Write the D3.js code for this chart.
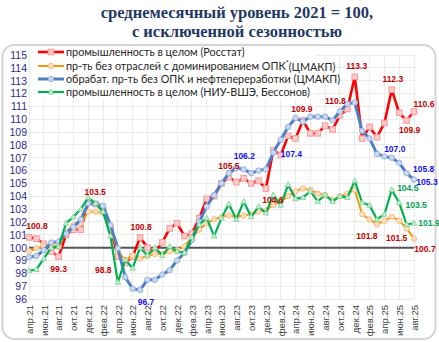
<!DOCTYPE html>
<html><head><meta charset="utf-8">
<script src="https://cdn.jsdelivr.net/npm/d3@7"></script>
<style>
html,body{margin:0;padding:0;background:#fff;}
svg{display:block;}
</style></head>
<body>
<svg id="chart" width="439" height="342"></svg>
<script>
// ---------- DATA ----------
const months = [
 "апр.21","май.21","июн.21","июл.21","авг.21","сен.21","окт.21","ноя.21","дек.21",
 "янв.22","фев.22","мар.22","апр.22","май.22","июн.22","июл.22","авг.22","сен.22","окт.22","ноя.22","дек.22",
 "янв.23","фев.23","мар.23","апр.23","май.23","июн.23","июл.23","авг.23","сен.23","окт.23","ноя.23","дек.23",
 "янв.24","фев.24","мар.24","апр.24","май.24","июн.24","июл.24","авг.24","сен.24","окт.24","ноя.24","дек.24",
 "янв.25","фев.25","мар.25","апр.25","май.25","июн.25","июл.25","авг.25"];
const tickLabels = months.filter((m,i)=>i%2===0);
const yTicks = d3.range(96,116);

const seriesNames = [
 "промышленность в целом (Росстат)",
 "пр-ть без отраслей с доминированием ОПК",
 "обрабат. пр-ть без ОПК и нефтепереработки (ЦМАКП)",
 "промышленность в целом (НИУ-ВШЭ, Бессонов)"];

const rosstat = [100.8,100.7,100.3,99.7,99.3,101.0,101.4,101.4,103.5,
 103.4,102.9,101.5,99.3,98.8,99.3,100.8,100.0,99.7,100.4,101.5,101.9,
 100.9,101.1,102.3,103.8,104.0,105.0,105.5,105.1,105.4,105.0,105.2,104.6,
 107.6,107.2,108.7,108.5,109.9,108.9,108.9,109.5,109.2,110.3,110.8,113.3,
 108.5,109.4,108.6,109.7,112.3,110.5,109.9,110.6];
const noDefense = [99.7,99.95,100.1,100.2,100.1,101.25,101.75,101.9,102.8,
 102.8,102.7,101.4,99.7,99.05,99.4,99.15,99.35,99.5,99.5,99.7,99.8,
 100.1,100.8,101.4,101.9,102.2,102.4,102.5,102.4,102.5,102.6,102.8,102.9,
 103.3,103.6,104.0,104.4,104.6,104.5,104.2,104.1,103.7,104.0,104.2,104.5,
 102.6,102.2,101.8,102.1,102.4,102.1,101.5,100.7];
const manuf = [99.25,99.35,99.8,100.4,100.45,101.1,101.6,102.2,103.45,
 103.4,103.25,101.75,99.95,97.7,96.8,96.7,97.5,97.5,97.9,98.25,99.0,
 99.6,100.6,102.0,103.2,104.1,105.0,105.8,106.2,106.1,105.8,106.0,106.1,
 107.4,108.4,109.4,110.1,109.8,110.2,110.2,110.2,109.9,110.6,111.2,111.3,
 109.1,108.5,107.3,107.1,107.0,106.6,105.8,105.3];
const hse = [98.2,98.3,99.15,100.0,100.07,101.9,102.4,103.0,103.9,
 103.45,102.8,100.9,97.3,99.05,98.4,100.0,99.4,100.0,99.4,100.1,99.7,
 99.6,100.8,101.8,102.3,100.9,102.3,103.4,102.2,103.6,102.4,103.2,102.7,
 104.1,103.3,104.9,103.8,103.9,104.4,103.6,104.1,103.6,104.0,103.9,105.2,
 103.5,103.3,102.2,102.6,104.5,103.5,101.8,101.9];

// labelled points: [seriesIndex, monthIndex]
const labelPoints = [
 [0,0],[0,4],[0,8],[0,13],[0,15],[0,27],[0,32],[0,37],[0,43],[0,44],[0,49],[0,51],[0,52],
 [2,15],[2,28],[2,33],[2,49],[2,51],[2,52],
 [3,49],[3,50],[3,52],
 [1,47],[1,51],[1,52]];
// label offsets (dx, dy) from the point, same order
const labelOffsets = [
 [8,-11],[0,12],[7,-11],[-22,7],[1,-10],[0,-11],[7,11],[-1,-11],[-12,-8],[2,-11],[1,-11],[3,10],[10,-7],
 [6,12],[8,-12],[18,1],[3,-9],[17,-4],[13,2],
 [16,-2],[17,2],[15,0],
 [-10,12],[-10,10],[11,10]];

// ---------- STYLE ----------
const styles = [
 {line:"#FF0000", w:2.6, marker:"square", fill:"#FFCACA", stroke:"#F29B9B", label:"#C00000"},
 {line:"#EB9A00", w:2.0, marker:"circle", fill:"#FDDDBE", stroke:"#F7BE86", label:"#C00000"},
 {line:"#4F7FC4", w:3.0, marker:"circle", fill:"#CAD9F1", stroke:"#93B2E2", label:"#1010F0"},
 {line:"#00B050", w:2.2, marker:"triangle", fill:"#C8EDD2", stroke:"#7CD096", label:"#00A050"}];
const allSeries = [rosstat, noDefense, manuf, hse];

const svg = d3.select("#chart");
const L = 29, R = 414, T = 55, B = 299;
const x = d3.scalePoint().domain(months).range([L, R]);
const y = d3.scaleLinear().domain([96,115]).range([B, T]);

// panel
svg.append("rect").attr("x",2.5).attr("y",45).attr("width",433).attr("height",294)
  .attr("rx",12).attr("fill","#fff").attr("stroke","#D4D4D4").attr("stroke-width",2);

// title
const title = svg.append("text").attr("x",237).attr("text-anchor","middle")
  .attr("font-family","'Liberation Serif','Times New Roman',serif").attr("font-weight","bold")
  .attr("font-size",16.5).attr("fill","#1F3864");
title.append("tspan").attr("x",237).attr("y",18).text("среднемесячный уровень 2021 = 100,");
title.append("tspan").attr("x",237).attr("y",37).text("с исключенной сезонностью");

// gridlines
svg.append("g").selectAll("line").data(yTicks).join("line")
  .attr("x1",L).attr("x2",R).attr("y1",d=>y(d)).attr("y2",d=>y(d))
  .attr("stroke","#EBEBEB").attr("stroke-width",1).attr("shape-rendering","crispEdges");
svg.append("g").selectAll("line").data(tickLabels).join("line")
  .attr("x1",d=>x(d)).attr("x2",d=>x(d)).attr("y1",T).attr("y2",B)
  .attr("stroke","#EBEBEB").attr("stroke-width",1).attr("shape-rendering","crispEdges");

// y axis
const yAxis = d3.axisLeft(y).tickValues(yTicks).tickSize(0).tickPadding(0).tickFormat(d3.format("d"));
const ga = svg.append("g").attr("transform",`translate(${L-2},0)`).call(yAxis);
ga.select(".domain").remove();
ga.selectAll("text").attr("font-family","'Liberation Sans',Arial,sans-serif").attr("font-size",10.5).attr("fill","#2B2B8C");

// x axis
const xAxis = d3.axisBottom(x).tickValues(tickLabels).tickSize(0).tickPadding(0);
const gx = svg.append("g").attr("transform",`translate(0,${B+6})`).call(xAxis);
gx.select(".domain").remove();
gx.selectAll("text").attr("font-family","'Liberation Sans',Arial,sans-serif").attr("font-size",9.5)
  .attr("fill","#404040").attr("text-anchor","end").attr("transform","rotate(-90)")
  .attr("x",0).attr("y",0).attr("dy","0.35em");

// legend background
svg.append("rect").attr("x",L+1).attr("y",46).attr("width",285).attr("height",53).attr("fill","#fff");

// 100 line
svg.append("line").attr("x1",L).attr("x2",R).attr("y1",y(100)).attr("y2",y(100))
  .attr("stroke","#555").attr("stroke-width",2);

// series
const line = d3.line().x((d,i)=>x(months[i])).y(d=>y(d));
function drawMarker(g, type, cx, cy, st){
  if(type==="square"){
    g.append("rect").attr("x",cx-2.8).attr("y",cy-2.8).attr("width",5.6).attr("height",5.6)
      .attr("fill",st.fill).attr("stroke",st.stroke).attr("stroke-width",1);
  } else if(type==="circle"){
    g.append("circle").attr("cx",cx).attr("cy",cy).attr("r",2.7)
      .attr("fill",st.fill).attr("stroke",st.stroke).attr("stroke-width",1);
  } else {
    g.append("path").attr("d",`M${cx},${cy-3}L${cx+2.8},${cy+2}L${cx-2.8},${cy+2}Z`)
      .attr("fill",st.fill).attr("stroke",st.stroke).attr("stroke-width",0.8);
  }
}
allSeries.forEach((data,si)=>{
  const st = styles[si];
  const g = svg.append("g");
  g.append("path").datum(data).attr("d",line).attr("fill","none")
    .attr("stroke",st.line).attr("stroke-width",st.w).attr("stroke-linejoin","round");
  data.forEach((v,i)=>drawMarker(g, st.marker, x(months[i]), y(v), st));
});

// data labels
const lg = svg.append("g").attr("font-family","'Liberation Sans Narrow','Arial Narrow','Liberation Sans',sans-serif")
  .attr("font-weight","bold").attr("font-size",8.5).attr("text-anchor","middle");
labelPoints.forEach((p,k)=>{
  const [si,i] = p;
  const v = allSeries[si][i];
  lg.append("text").attr("x",x(months[i])+labelOffsets[k][0]).attr("y",y(v)+labelOffsets[k][1])
    .attr("dy","0.35em").attr("fill",styles[si].label).text(v.toFixed(1));
});

// legend
const leg = svg.append("g").attr("font-family","Lato,'Liberation Sans',sans-serif").attr("font-size",10.8).attr("fill","#262626");
const legY = [52,66,79,92];
seriesNames.forEach((name,si)=>{
  const st = styles[si];
  const yy = legY[si];
  leg.append("line").attr("x1",38).attr("x2",64).attr("y1",yy).attr("y2",yy)
    .attr("stroke",st.line).attr("stroke-width",st.w);
  drawMarker(leg, st.marker, 51, yy, st);
  const t = leg.append("text").attr("x",66).attr("y",yy).attr("dy","0.35em").text(name);
  if(si===1){
    t.append("tspan").attr("font-size",7).attr("dy","-0.5em").text("*");
    t.append("tspan").attr("dy","0.4em").text("(ЦМАКП)");
  }
});
</script>
</body></html>
